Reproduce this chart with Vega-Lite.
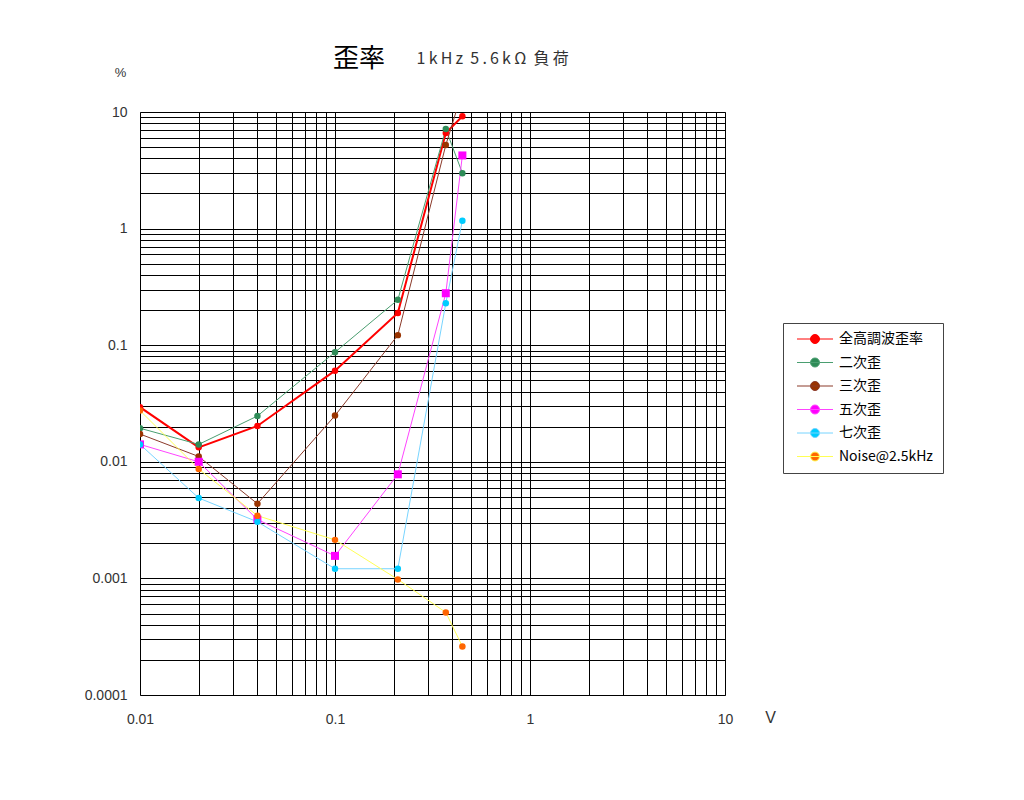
{
  "$schema": "https://vega.github.io/schema/vega-lite/v6.json",
  "width": 585,
  "height": 583,
  "autosize": {"type": "none"},
  "padding": {"left": 140, "top": 112, "right": 299, "bottom": 105},
  "background": "white",
  "title": {
    "text": "歪率",
    "subtitle": "\u200b\u3000\u3000\u3000\u3000\u3000 1\u2009k\u2009H\u2009z\u00a0\u00a05\u2009.\u20096\u2009k\u2009Ω\u00a0\u00a0負\u2009荷",
    "anchor": "start",
    "frame": "group",
    "dx": 193,
    "offset": -6,
    "font": "Noto Sans CJK JP",
    "fontSize": 26,
    "fontWeight": "normal",
    "color": "#000",
    "subtitleFont": "Noto Sans CJK JP",
    "subtitleFontSize": 16,
    "subtitleColor": "#333",
    "subtitlePadding": -21
  },
  "data": {
    "values": [
      {"series": "全高調波歪率", "voltage": 0.01, "distortion": 0.0294},
      {"series": "全高調波歪率", "voltage": 0.02, "distortion": 0.0133},
      {"series": "全高調波歪率", "voltage": 0.04, "distortion": 0.0203},
      {"series": "全高調波歪率", "voltage": 0.1, "distortion": 0.0605},
      {"series": "全高調波歪率", "voltage": 0.21, "distortion": 0.189},
      {"series": "全高調波歪率", "voltage": 0.37, "distortion": 6.6},
      {"series": "全高調波歪率", "voltage": 0.45, "distortion": 9.2},
      {"series": "二次歪", "voltage": 0.01, "distortion": 0.0194},
      {"series": "二次歪", "voltage": 0.02, "distortion": 0.0141},
      {"series": "二次歪", "voltage": 0.04, "distortion": 0.0247},
      {"series": "二次歪", "voltage": 0.1, "distortion": 0.0871},
      {"series": "二次歪", "voltage": 0.21, "distortion": 0.245},
      {"series": "二次歪", "voltage": 0.37, "distortion": 7.15},
      {"series": "二次歪", "voltage": 0.45, "distortion": 2.99},
      {"series": "三次歪", "voltage": 0.01, "distortion": 0.0173},
      {"series": "三次歪", "voltage": 0.02, "distortion": 0.0111},
      {"series": "三次歪", "voltage": 0.04, "distortion": 0.00437},
      {"series": "三次歪", "voltage": 0.1, "distortion": 0.0249},
      {"series": "三次歪", "voltage": 0.21, "distortion": 0.122},
      {"series": "三次歪", "voltage": 0.37, "distortion": 5.21},
      {"series": "三次歪", "voltage": 0.45, "distortion": 15},
      {"series": "五次歪", "voltage": 0.01, "distortion": 0.0141},
      {"series": "五次歪", "voltage": 0.02, "distortion": 0.01},
      {"series": "五次歪", "voltage": 0.04, "distortion": 0.0032},
      {"series": "五次歪", "voltage": 0.1, "distortion": 0.00156},
      {"series": "五次歪", "voltage": 0.21, "distortion": 0.00781},
      {"series": "五次歪", "voltage": 0.37, "distortion": 0.279},
      {"series": "五次歪", "voltage": 0.45, "distortion": 4.24},
      {"series": "七次歪", "voltage": 0.01, "distortion": 0.0141},
      {"series": "七次歪", "voltage": 0.02, "distortion": 0.00489},
      {"series": "七次歪", "voltage": 0.04, "distortion": 0.00306},
      {"series": "七次歪", "voltage": 0.1, "distortion": 0.00121},
      {"series": "七次歪", "voltage": 0.21, "distortion": 0.00121},
      {"series": "七次歪", "voltage": 0.37, "distortion": 0.229},
      {"series": "七次歪", "voltage": 0.45, "distortion": 1.17},
      {"series": "Noise@2.5kHz", "voltage": 0.01, "distortion": 0.0275},
      {"series": "Noise@2.5kHz", "voltage": 0.02, "distortion": 0.00867},
      {"series": "Noise@2.5kHz", "voltage": 0.04, "distortion": 0.00345},
      {"series": "Noise@2.5kHz", "voltage": 0.1, "distortion": 0.00214},
      {"series": "Noise@2.5kHz", "voltage": 0.21, "distortion": 0.00098},
      {"series": "Noise@2.5kHz", "voltage": 0.37, "distortion": 0.000511},
      {"series": "Noise@2.5kHz", "voltage": 0.45, "distortion": 0.000261}
    ]
  },
  "encoding": {
    "x": {
      "field": "voltage",
      "type": "quantitative",
      "scale": {"type": "log", "domain": [0.01, 10], "nice": false},
      "axis": {
        "values": [0.01, 0.02, 0.03, 0.04, 0.05, 0.06, 0.07, 0.08, 0.09,
                   0.1, 0.2, 0.3, 0.4, 0.5, 0.6, 0.7, 0.8, 0.9,
                   1, 2, 3, 4, 5, 6, 7, 8, 9, 10],
        "labelExpr": "abs(log(datum.value)/LN10 - round(log(datum.value)/LN10)) < 0.001 ? format(datum.value, '~g') : ''",
        "labelPadding": 17,
        "title": "V",
        "titleX": 630,
        "titleY": 22,
        "titleAlign": "center",
        "titleBaseline": "middle",
        "titleFontSize": 16
      }
    },
    "y": {
      "field": "distortion",
      "type": "quantitative",
      "scale": {"type": "log", "domain": [0.0001, 10], "nice": false},
      "axis": {
        "values": [0.0001, 0.0002, 0.0003, 0.0004, 0.0005, 0.0006, 0.0007, 0.0008, 0.0009,
                   0.001, 0.002, 0.003, 0.004, 0.005, 0.006, 0.007, 0.008, 0.009,
                   0.01, 0.02, 0.03, 0.04, 0.05, 0.06, 0.07, 0.08, 0.09,
                   0.1, 0.2, 0.3, 0.4, 0.5, 0.6, 0.7, 0.8, 0.9,
                   1, 2, 3, 4, 5, 6, 7, 8, 9, 10],
        "labelExpr": "abs(log(datum.value)/LN10 - round(log(datum.value)/LN10)) < 0.001 ? format(datum.value, '~g') : ''",
        "labelPadding": 13,
        "title": "%",
        "titleAngle": 0,
        "titleX": -20,
        "titleY": -40,
        "titleAlign": "center",
        "titleBaseline": "middle",
        "titleFontSize": 13
      }
    }
  },
  "layer": [
    {
      "mark": {"type": "line", "clip": true},
      "encoding": {
        "stroke": {
          "field": "series",
          "type": "nominal",
          "scale": {
            "domain": ["全高調波歪率", "二次歪", "三次歪", "五次歪", "七次歪", "Noise@2.5kHz"],
            "range": ["#ff0000", "#4a9e70", "#8b3a2a", "#ff44ff", "#77d4ff", "#ffff55"]
          }
        },
        "strokeWidth": {
          "condition": {"test": "datum.series === '全高調波歪率'", "value": 2},
          "value": 1
        }
      }
    },
    {
      "mark": {"type": "point", "filled": true, "opacity": 1, "clip": true},
      "encoding": {
        "fill": {
          "field": "series",
          "type": "nominal",
          "scale": {
            "domain": ["全高調波歪率", "二次歪", "三次歪", "五次歪", "七次歪", "Noise@2.5kHz"],
            "range": ["#ff0000", "#2e8b57", "#993300", "#ff00ff", "#00ccff", "#ff6600"]
          },
          "legend": {
            "title": null,
            "orient": "none",
            "legendX": 643,
            "legendY": 211,
            "padding": 9,
            "strokeColor": "#444",
            "fillColor": "white",
            "symbolType": "M-4,0H4M-1,0A1,1,0,1,0,1,0A1,1,0,1,0,-1,0Z",
            "symbolSize": 81,
            "symbolStrokeWidth": 1,
            "symbolOffset": 16,
            "labelOffset": 17,
            "rowPadding": 9.5,
            "labelFont": "Noto Sans CJK JP",
            "labelFontSize": 14,
            "labelColor": "#000"
          }
        },
        "shape": {
          "condition": {"test": "datum.series === '五次歪'", "value": "square"},
          "value": "circle"
        },
        "size": {
          "condition": {"test": "datum.series === '五次歪'", "value": 64},
          "value": 42
        }
      }
    }
  ],
  "config": {
    "view": {"stroke": "#888", "strokeWidth": 1},
    "axis": {
      "grid": true,
      "gridColor": "#000",
      "gridOpacity": 1,
      "gridWidth": 1,
      "ticks": false,
      "tickSize": 0,
      "domain": false,
      "labelOverlap": false,
      "labelFlush": false,
      "labelFont": "Liberation Sans",
      "labelFontSize": 14,
      "labelColor": "#333",
      "titleFont": "Liberation Sans",
      "titleFontWeight": "normal",
      "titleColor": "#333"
    }
  }
}
